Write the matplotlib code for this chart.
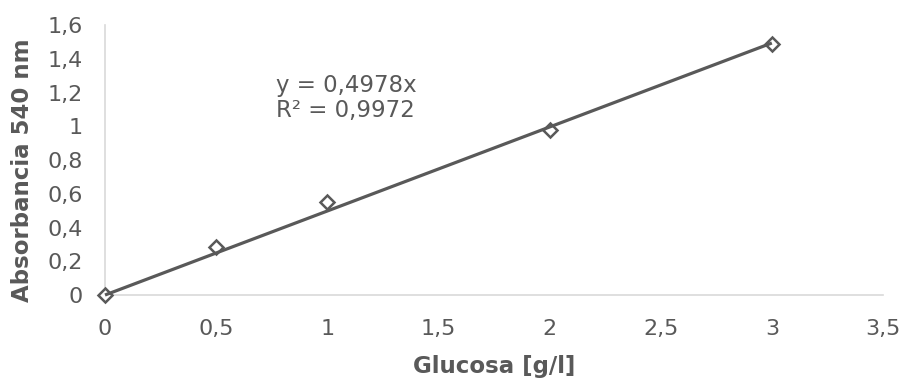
import numpy as np
import matplotlib
matplotlib.use("Agg")
import matplotlib.pyplot as plt

# Calibration data: glucose concentration vs absorbance at 540 nm
glucosa = [0, 0.5, 1, 2, 3]
absorbancia = [0.0, 0.284, 0.551, 0.978, 1.488]
pendiente = 0.4978
r2 = 0.9972

x_ticks = [0, 0.5, 1, 1.5, 2, 2.5, 3, 3.5]
y_ticks = [0, 0.2, 0.4, 0.6, 0.8, 1, 1.2, 1.4, 1.6]

text_color = "#595959"
line_color = "#595959"
axis_color = "#d9d9d9"

plt.rcParams["font.family"] = ["DejaVu Sans"]

fig = plt.figure(figsize=(9.06, 3.79), dpi=100)
ax = fig.add_axes([0.1159, 0.2216, 0.8587, 0.7124])

# Linear trendline through the origin
xl = np.array([0, max(glucosa)])
ax.plot(xl, pendiente * xl, color=line_color, lw=2.3, zorder=4,
        solid_capstyle="butt", clip_on=False)
ax.plot(glucosa, absorbancia, linestyle="none", marker="D", ms=7.5,
        mfc="white", mec=line_color, mew=1.8, zorder=3, clip_on=False)

ax.set_xlim(0, 3.5)
ax.set_ylim(0, 1.6)
ax.set_xticks(x_ticks)
ax.set_yticks(y_ticks)


def fmt(v):
    return ("%g" % v).replace(".", ",")


ax.set_xticklabels([fmt(v) for v in x_ticks])
ax.set_yticklabels([fmt(v) for v in y_ticks])
ax.tick_params(axis="both", length=0, labelsize=16, colors=text_color)
ax.tick_params(axis="x", pad=17)
ax.tick_params(axis="y", pad=16)

for side in ["top", "right"]:
    ax.spines[side].set_visible(False)
for side in ["left", "bottom"]:
    ax.spines[side].set_color(axis_color)
    ax.spines[side].set_linewidth(1.2)

ax.set_xlabel("Glucosa [g/l]", fontsize=16.5, fontweight="bold",
              color=text_color)
ax.set_ylabel("Absorbancia 540 nm", fontsize=16.5, fontweight="bold",
              color=text_color)
ax.xaxis.set_label_coords(0.5, -0.2205)
ax.yaxis.set_label_coords(-0.0919, 0.463)

ax.text(0.77, 1.244, "y = 0,4978x", fontsize=16.5, color=text_color,
        va="center", ha="left")
ax.text(0.77, 1.096, "R² = 0,9972", fontsize=16.5, color=text_color,
        va="center", ha="left")

fig.savefig("out.png", dpi=100)
